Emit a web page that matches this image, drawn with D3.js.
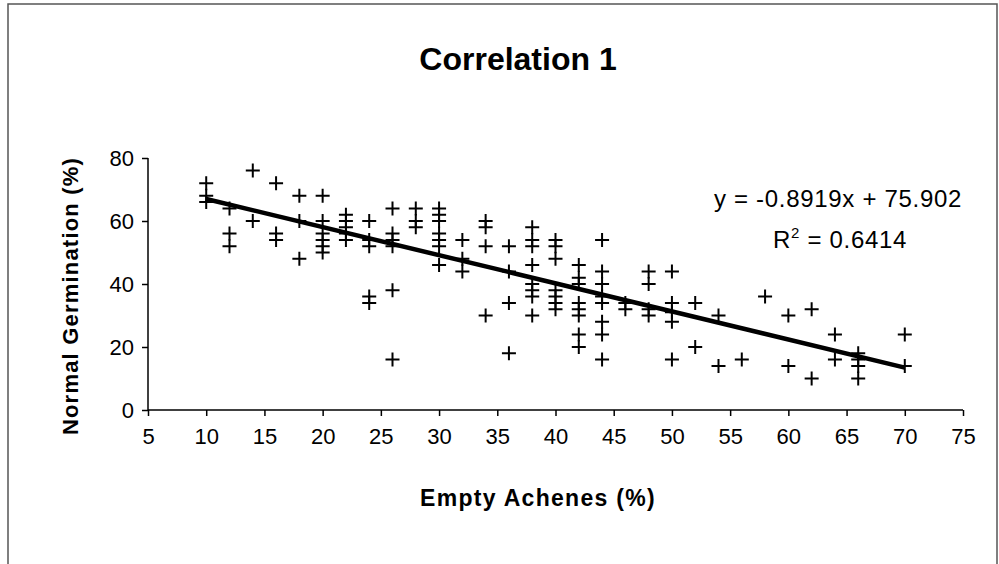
<!DOCTYPE html>
<html><head><meta charset="utf-8">
<script src="https://cdn.jsdelivr.net/npm/d3@7"></script>
<style>
html,body{margin:0;padding:0;background:#fff;}
svg{display:block;font-family:"Liberation Sans",Arial,sans-serif;}
</style></head>
<body>
<svg id="chart" width="999" height="564"></svg>
<script>
// Data: x = Empty Achenes (%), y = list of Normal Germination (%) values at that x
const xGroups = [10,12,14,16,18,20,22,24,26,28,30,32,34,36,38,40,42,44,46,48,50,52,54,56,58,60,62,64,66,70];
const yGroups = [
  [72,68,66],
  [64,56,52],
  [76,60],
  [72,56,54],
  [68,60,48],
  [68,60,56,54,52,50],
  [62,60,58,56,54],
  [60,54,52,36,34],
  [64,56,54,52,38,16],
  [64,60,58],
  [64,62,60,56,54,52,46],
  [54,48,44],
  [60,58,52,30],
  [52,44,34,18],
  [58,54,52,46,40,38,36,30],
  [54,52,48,38,36,34,32],
  [46,42,40,34,32,30,24,20],
  [54,44,40,36,34,28,24,16],
  [34,32],
  [44,40,32,30],
  [44,34,31,28,16],
  [34,20],
  [30,14],
  [16],
  [36],
  [30,14],
  [32,10],
  [24,16],
  [18,16,14,10],
  [24,14]
];
const xTicks = [5,10,15,20,25,30,35,40,45,50,55,60,65,70,75];
const yTicks = [0,20,40,60,80];
const slope = -0.8919, intercept = 75.902;
const trendX = [10,70];
const titleText = "Correlation 1";
const xLabel = "Empty Achenes (%)";
const yLabel = "Normal Germination (%)";
const eqText = "y = -0.8919x + 75.902";

const points = [];
xGroups.forEach((xv,i)=>yGroups[i].forEach(yv=>points.push({x:xv,y:yv})));

const svg = d3.select("#chart");
// outer frame
svg.append("rect").attr("x",8).attr("y",4).attr("width",989).attr("height",580)
  .attr("fill","none").attr("stroke","#555").attr("stroke-width",1.5);

const x = d3.scaleLinear().domain([5,75]).range([148,963]);
const y = d3.scaleLinear().domain([0,80]).range([410,158]);

// title
svg.append("text").attr("x",518).attr("y",70).attr("text-anchor","middle")
  .attr("font-size",32).attr("font-weight","bold").text(titleText);

// axes
const xAxis = d3.axisBottom(x).tickValues(xTicks).tickSize(6).tickPadding(12).tickFormat(d3.format("d"));
const gx = svg.append("g").attr("transform","translate(0,410)").call(xAxis);
gx.selectAll("text").attr("font-size",22).attr("font-family","Liberation Sans, Arial, sans-serif").attr("fill","#000");
gx.selectAll("line,path").attr("stroke","#000").attr("stroke-width",1.5);
gx.select(".domain").attr("d","M148,0H963");

const yAxis = d3.axisLeft(y).tickValues(yTicks).tickSize(6).tickPadding(8).tickFormat(d3.format("d"));
const gy = svg.append("g").attr("transform","translate(148,0)").call(yAxis);
gy.selectAll("text").attr("font-size",22).attr("font-family","Liberation Sans, Arial, sans-serif").attr("fill","#000");
gy.selectAll("line,path").attr("stroke","#000").attr("stroke-width",1.5);
gy.select(".domain").attr("d","M0,158V410");

// axis labels
svg.append("text").attr("x",538).attr("y",506).attr("text-anchor","middle")
  .attr("font-size",23).attr("font-weight","bold").attr("letter-spacing",1.3).text(xLabel);
svg.append("text").attr("transform","translate(78,296) rotate(-90)").attr("text-anchor","middle")
  .attr("font-size",22).attr("font-weight","bold").attr("letter-spacing",1.2).text(yLabel);

// markers (+)
const s = 7;
svg.append("g").selectAll("path").data(points).join("path")
  .attr("d",d=>`M${x(d.x)-s},${y(d.y)}H${x(d.x)+s}M${x(d.x)},${y(d.y)-s}V${y(d.y)+s}`)
  .attr("stroke","#000").attr("stroke-width",2).attr("fill","none");

// trendline
const line = d3.line().x(d=>x(d)).y(d=>y(slope*d+intercept));
svg.append("path").datum(trendX).attr("d",line).attr("stroke","#000").attr("stroke-width",4.5).attr("fill","none");

// equation
svg.append("text").attr("x",838).attr("y",207).attr("text-anchor","middle").attr("font-size",24).attr("letter-spacing",0.7).text(eqText);
const r2 = svg.append("text").attr("x",840).attr("y",248).attr("text-anchor","middle").attr("font-size",24).attr("letter-spacing",0.7);
r2.append("tspan").text("R");
r2.append("tspan").attr("font-size",15).attr("dy",-10).text("2");
r2.append("tspan").attr("dy",10).text(" = 0.6414");
</script>
</body></html>
